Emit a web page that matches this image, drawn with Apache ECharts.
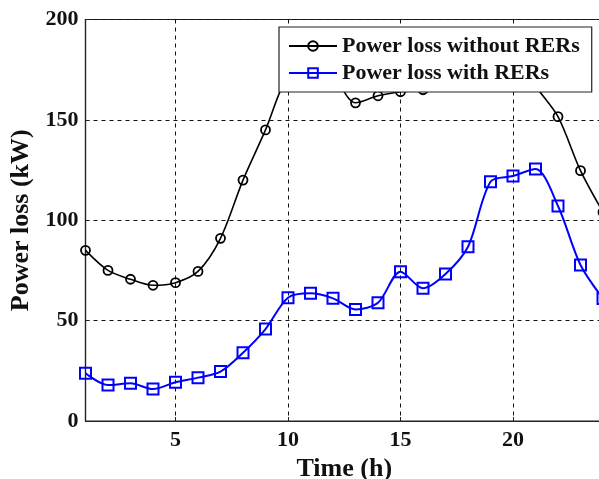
<!DOCTYPE html>
<html>
<head>
<meta charset="utf-8">
<script src="https://cdn.jsdelivr.net/npm/echarts@6/dist/echarts.min.js"></script>
<style>
  html, body { margin: 0; padding: 0; background: #fff; }
  #chart { width: 599px; height: 479px; }
</style>
</head>
<body>
<div id="chart"></div>
<script>
// Hourly power loss over one day
const hours = [1, 2, 3, 4, 5, 6, 7, 8, 9, 10, 11, 12, 13, 14, 15, 16, 17, 18, 19, 20, 21, 22, 23, 24];
const lossWithoutRERs = [85, 75, 70.6, 67.6, 68.9, 74.5, 91, 120, 145, 172, 178, 172, 158.5, 162, 164, 165, 172, 182, 192, 186, 167, 151.6, 124.7, 104];
const lossWithRERs = [23.8, 17.9, 18.8, 15.9, 19.3, 21.6, 24.6, 34, 45.8, 61.4, 63.6, 61.1, 55.6, 58.9, 74.4, 66.1, 73.2, 86.8, 119.2, 122, 125.5, 107.1, 77.7, 61];
const seriesNames = ['Power loss without RERs', 'Power loss with RERs'];
const xTitle = 'Time (h)';
const yTitle = 'Power loss (kW)';

const FONT = "'Liberation Serif', 'Times New Roman', serif";
const BLUE = '#0000ff';

const toPairs = (ys) => hours.map((h, i) => [h, ys[i]]);

const chart = echarts.init(document.getElementById('chart'), null, { renderer: 'canvas' });

const gridLine = { show: true, lineStyle: { color: '#111', width: 1, type: [4, 4] } };

chart.setOption({
  animation: false,
  backgroundColor: '#fff',
  grid: {
    // the last hour sits just past the right edge of the canvas
    left: 85.5, top: 19.5, width: 517.5, bottom: 58,
    outerBoundsMode: 'none', containLabel: false,
    show: true, borderColor: '#222', borderWidth: 1.2, backgroundColor: 'transparent'
  },
  xAxis: {
    type: 'value', min: 1, max: 24, splitNumber: 5,
    name: xTitle, nameLocation: 'middle', nameGap: 34,
    nameTextStyle: { fontFamily: FONT, fontWeight: 'bold', fontSize: 26, color: '#111' },
    axisLine: { show: true, lineStyle: { color: '#222', width: 1.2 } },
    axisTick: { show: true, inside: true, length: 4, lineStyle: { color: '#222' } },
    axisLabel: { showMinLabel: false, showMaxLabel: false, margin: 8,
      fontFamily: FONT, fontWeight: 'bold', fontSize: 22, color: '#111' },
    splitLine: gridLine
  },
  yAxis: {
    type: 'value', min: 0, max: 200, interval: 50,
    name: yTitle, nameLocation: 'middle', nameGap: 44, nameRotate: 90,
    nameTextStyle: { fontFamily: FONT, fontWeight: 'bold', fontSize: 26, color: '#111' },
    axisLine: { show: true, lineStyle: { color: '#222', width: 1.2 } },
    axisTick: { show: true, inside: true, length: 4, lineStyle: { color: '#222' } },
    axisLabel: { margin: 7, fontFamily: FONT, fontWeight: 'bold', fontSize: 22, color: '#111' },
    splitLine: gridLine
  },
  legend: {
    orient: 'vertical',
    left: 279, top: 27,
    padding: [7, 12, 7, 9],
    itemGap: 3,
    itemWidth: 48, itemHeight: 12,
    backgroundColor: '#fff',
    borderColor: '#222', borderWidth: 1.2,
    z: 10,
    textStyle: { fontFamily: FONT, fontWeight: 'bold', fontSize: 22, lineHeight: 24, color: '#111' },
    data: seriesNames
  },
  series: [
    {
      name: seriesNames[0], type: 'line', data: toPairs(lossWithoutRERs),
      smooth: 0.3, symbol: 'circle', symbolSize: 9,
      lineStyle: { color: '#000', width: 1.6 },
      itemStyle: { color: 'rgba(255,255,255,0)', borderColor: '#000', borderWidth: 1.8 },
      z: 3
    },
    {
      name: seriesNames[1], type: 'line', data: toPairs(lossWithRERs),
      smooth: 0.3, symbol: 'rect', symbolSize: 11,
      lineStyle: { color: BLUE, width: 2 },
      itemStyle: { color: 'rgba(255,255,255,0)', borderColor: BLUE, borderWidth: 2 },
      z: 3
    }
  ]
});
</script>
</body>
</html>
